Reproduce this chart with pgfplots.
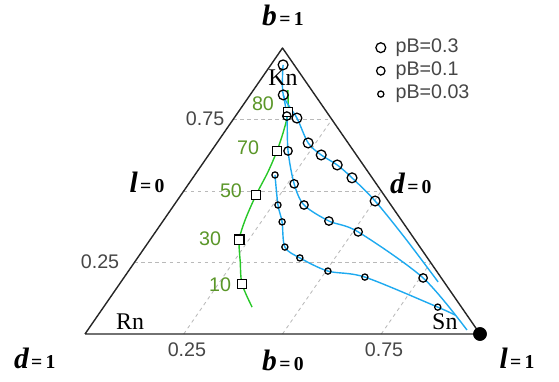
\documentclass[border=0pt]{standalone}
\usepackage{pgfplots}
\pgfplotsset{compat=1.18}
\usepackage{pgfplotstable}
\usepackage{fontspec}
\setmainfont{Liberation Serif}
\setsansfont{Liberation Sans}

\definecolor{curveblue}{RGB}{30,170,240}
\definecolor{curvegreen}{RGB}{40,200,40}
\definecolor{labgreen}{RGB}{90,150,40}
\definecolor{labgray}{RGB}{70,70,70}

% ternary data: l and b, d = 1-l-b
% pB=0.3, observed points
\pgfplotstableread{
l b
0.031 0.941
0.084 0.836
0.159 0.755
0.231 0.668
0.285 0.626
0.343 0.591
0.403 0.546
0.502 0.465
}\ptsA
\pgfplotstableread{
l b
0.031 0.941
0.084 0.836
0.159 0.755
0.231 0.668
0.285 0.626
0.343 0.591
0.403 0.546
0.502 0.465
0.642 0.336
0.803 0.182
}\lineA
% pB=0.1
\pgfplotstableread{
l b
0.130 0.762
0.194 0.640
0.267 0.525
0.329 0.451
0.420 0.395
0.513 0.357
0.758 0.196
}\ptsB
\pgfplotstableread{
l b
0.084 0.836
0.130 0.762
0.194 0.640
0.267 0.525
0.329 0.451
0.420 0.395
0.513 0.357
0.758 0.196
0.960 0.014
}\lineB
% pB=0.03
\pgfplotstableread{
l b
0.203 0.556
0.263 0.451
0.303 0.392
0.354 0.304
0.411 0.266
0.505 0.220
0.609 0.199
0.846 0.094
}\ptsC
\pgfplotstableread{
l b
0.203 0.556
0.263 0.451
0.303 0.392
0.354 0.304
0.411 0.266
0.505 0.220
0.609 0.199
0.846 0.094
0.904 0.066
}\lineC
% green curve
\pgfplotstableread{
l b
0.087 0.853
0.126 0.776
0.147 0.713
0.166 0.640
0.180 0.566
0.190 0.486
0.206 0.399
0.226 0.329
0.267 0.252
0.310 0.175
0.376 0.094
}\lineG
\pgfplotstableread{
l b
0.126 0.776
0.166 0.640
0.190 0.486
0.226 0.329
0.310 0.175
}\ptsG

\pgfplotsset{
  tern/.style={table/x expr=\thisrow{l}+0.5*\thisrow{b}, table/y=b},
  gridl/.style={tern, gray!55, line width=0.6pt, dash pattern=on 2.5pt off 2.5pt, forget plot},
  circ/.style={only marks, mark=o, mark options={fill=white, draw=black, line width=0.9pt}},
}

\begin{document}
\begin{tikzpicture}
\begin{axis}[
  scale only axis,
  width=13.975cm, height=9.525cm,
  xmin=-0.21519, xmax=1.2,
  ymin=-0.16434, ymax=1.16783,
  hide axis, clip=false,
  legend image code/.code={\draw[#1] plot coordinates {(0.12cm,0cm)};},
  legend cell align=left,
  legend style={at={(axis cs:0.725,1.05)}, anchor=north west, draw=none, fill=none,
    font=\sffamily\fontsize{14}{15}\selectfont, text=labgray,
    nodes={inner sep=1pt, text height=10pt, text depth=3.5pt}, row sep=1pt,
    /tikz/every odd column/.style={column sep=6pt}},
]
\path (rel axis cs:0,0) rectangle (rel axis cs:1,1);

% dashed grid
\addplot[gridl] table[row sep=\\] {l b\\ 0 0.25\\ 0.75 0.25\\};
\addplot[gridl] table[row sep=\\] {l b\\ 0 0.5\\ 0.5 0.5\\};
\addplot[gridl] table[row sep=\\] {l b\\ 0 0.75\\ 0.25 0.75\\};
\addplot[gridl] table[row sep=\\] {l b\\ 0.25 0\\ 0.25 0.75\\};
\addplot[gridl] table[row sep=\\] {l b\\ 0.5 0\\ 0.5 0.5\\};
\addplot[gridl] table[row sep=\\] {l b\\ 0.75 0\\ 0.75 0.25\\};

% triangle
\addplot[tern, black!85, line width=1pt, line join=round, forget plot]
  table[row sep=\\] {l b\\ 0 0\\ 1 0\\ 0 1\\ 0 0\\};

% curves
\addplot[tern, curvegreen, line width=1pt, smooth, forget plot] table {\lineG};
\addplot[tern, curveblue, line width=1pt, smooth, forget plot] table {\lineA};
\addplot[tern, curveblue, line width=1pt, smooth, forget plot] table {\lineB};
\addplot[tern, curveblue, line width=1pt, smooth, forget plot] table {\lineC};

\addplot[tern, only marks, mark=square*, mark size=3.4pt,
  mark options={fill=white, draw=black, line width=0.9pt}, forget plot] table {\ptsG};

\addplot[tern, circ, mark size=3.5pt] table {\ptsA};
\addlegendentry{pB=0.3}
\addplot[tern, circ, mark size=3.0pt] table {\ptsB};
\addlegendentry{pB=0.1}
\addplot[tern, circ, mark size=2.2pt] table {\ptsC};
\addlegendentry{pB=0.03}

\addplot[tern, only marks, mark=*, mark size=4.7pt, black, forget plot]
  table[row sep=\\] {l b\\ 1 0\\};

% vertex names
\node[font=\fontsize{17}{18}\selectfont] at (axis cs:0.501,0.895) {Kn};
\node[font=\fontsize{17}{18}\selectfont] at (axis cs:0.114,0.042) {Rn};
\node[font=\fontsize{17}{18}\selectfont] at (axis cs:0.911,0.042) {Sn};

% green labels
\begin{scope}[every node/.style={font=\sffamily\fontsize{14}{15}\selectfont, text=labgreen}]
\node at (axis cs:0.4506,0.8042) {80};
\node at (axis cs:0.4127,0.6503) {70};
\node at (axis cs:0.3696,0.5) {50};
\node at (axis cs:0.3165,0.3322) {30};
\node at (axis cs:0.3418,0.1713) {10};
\end{scope}

% tick labels
\begin{scope}[every node/.style={font=\sffamily\fontsize{14}{15}\selectfont, text=labgray}]
\node at (axis cs:0.258,-0.056) {0.25};
\node at (axis cs:0.757,-0.056) {0.75};
\node at (axis cs:0.304,0.752) {0.75};
\node at (axis cs:0.038,0.252) {0.25};
\end{scope}

% edge labels
\newcommand{\elab}[2]{{\fontsize{21}{22}\selectfont\bfseries\itshape #1}\,{\fontsize{14}{15}\selectfont\bfseries =\,#2}}
\node at (axis cs:0.501,1.115) {\elab{b}{1}};
\node at (axis cs:0.157,0.531) {\elab{l}{0}};
\node at (axis cs:0.825,0.528) {\elab{d}{0}};
\node at (axis cs:-0.127,-0.084) {\elab{d}{1}};
\node at (axis cs:0.501,-0.091) {\elab{b}{0}};
\node at (axis cs:1.094,-0.084) {\elab{l}{1}};
\end{axis}
\end{tikzpicture}
\end{document}
